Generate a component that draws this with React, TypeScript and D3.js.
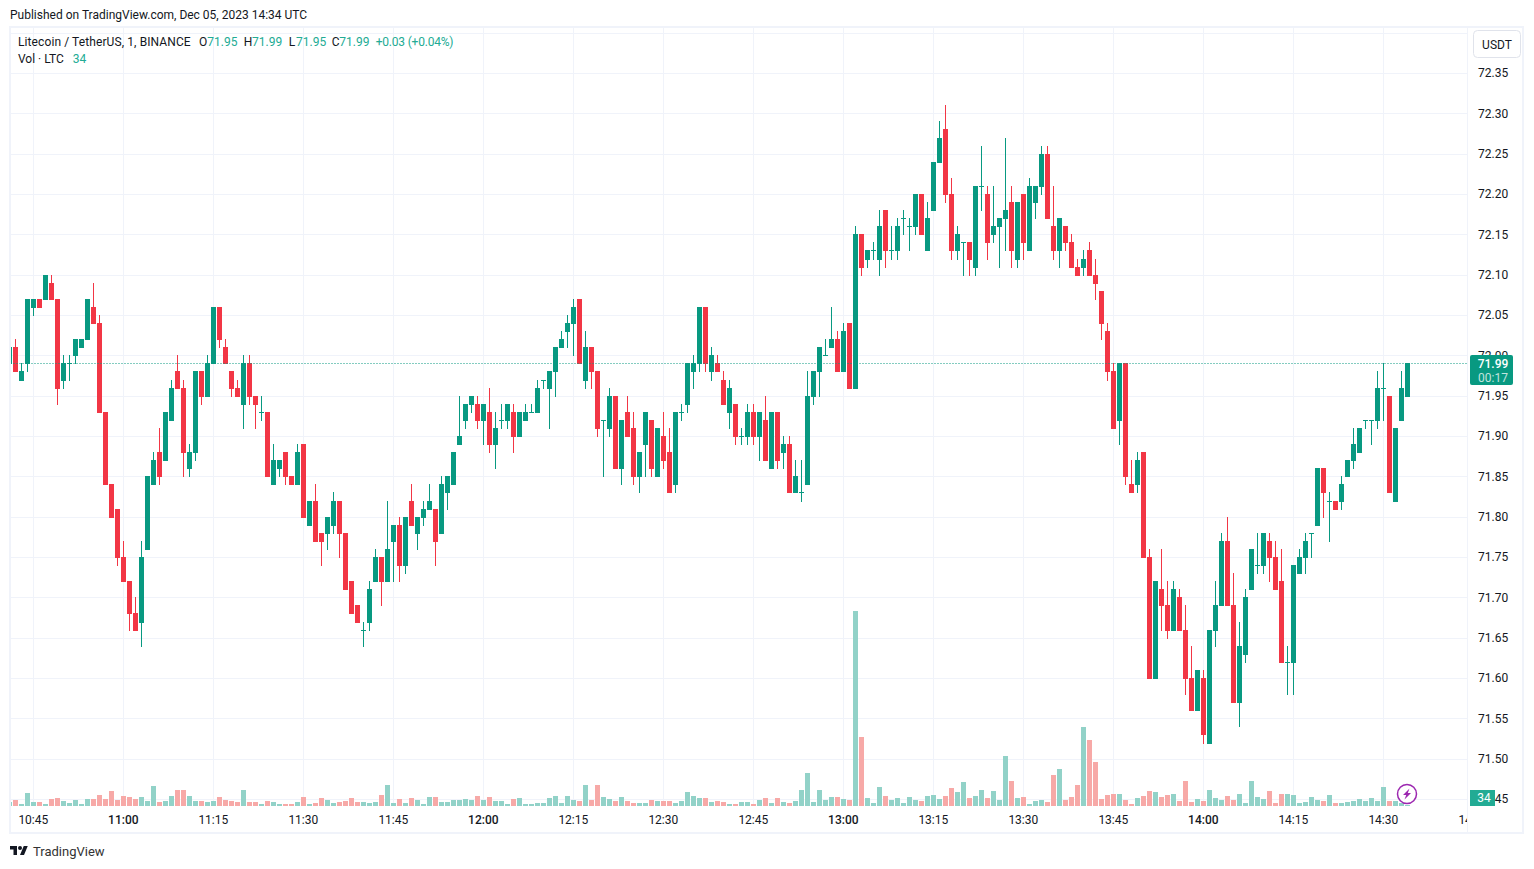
import React, { useRef, useEffect } from 'react';
import * as d3 from 'd3';

// one minute candles, the first one is 4 minutes before the 10:45 tick
const firstMinute = -4;

const opens = [
  71.99,72.01,71.97,71.99,72.06,72.07,72.07,72.09,72.07,71.97,
  71.99,72.00,72.01,72.02,72.06,72.04,71.93,71.84,71.81,71.75,
  71.72,71.68,71.67,71.76,71.84,71.88,71.87,71.92,71.98,71.96,
  71.86,71.88,71.98,71.95,71.99,72.06,72.01,71.98,71.96,71.94,
  71.99,71.95,71.93,71.93,71.84,71.86,71.88,71.85,71.84,71.89,
  71.79,71.82,71.78,71.78,71.79,71.82,71.78,71.72,71.69,71.66,
  71.67,71.72,71.75,71.72,71.77,71.79,71.74,71.82,71.78,71.80,
  71.81,71.81,71.78,71.83,71.84,71.89,71.92,71.94,71.94,71.92,
  71.93,71.89,71.92,71.92,71.93,71.90,71.92,71.93,71.93,71.97,
  71.96,71.98,72.01,72.03,72.04,72.07,71.97,72.01,71.98,71.92,
  71.91,71.95,71.86,71.93,71.91,71.85,71.89,71.92,71.85,71.90,
  71.88,71.84,71.93,71.94,71.98,71.99,72.06,71.98,71.99,71.97,
  71.93,71.94,71.90,71.90,71.93,71.90,71.92,71.86,71.93,71.88,
  71.89,71.83,71.83,71.84,71.95,71.98,72.00,72.01,72.02,71.98,
  72.04,71.96,72.15,72.12,72.13,72.12,72.18,72.13,72.13,72.17,
  72.16,72.16,72.20,72.13,72.18,72.24,72.28,72.20,72.13,72.14,
  72.14,72.11,72.21,72.20,72.15,72.16,72.17,72.19,72.12,72.20,
  72.13,72.19,72.21,72.25,72.16,72.13,72.16,72.14,72.11,72.11,
  72.13,72.10,72.08,72.03,71.98,71.92,71.99,71.84,71.84,71.88,
  71.75,71.60,71.71,71.69,71.66,71.70,71.66,71.60,71.56,71.60,
  71.52,71.66,71.69,71.77,71.69,71.57,71.63,71.71,71.74,71.74,
  71.77,71.75,71.72,71.62,71.62,71.73,71.75,71.78,71.79,71.86,
  71.82,71.82,71.82,71.85,71.87,71.88,71.92,71.92,71.92,71.96,
  71.95,71.82,71.92,71.95,
];

const highs = [
  72.01,72.02,71.99,72.07,72.07,72.07,72.10,72.10,72.07,72.00,
  72.00,72.02,72.02,72.07,72.09,72.05,71.93,71.84,71.81,71.77,
  71.72,71.70,71.77,71.85,71.88,71.91,71.93,71.97,72.00,71.97,
  71.89,71.98,71.98,72.00,72.06,72.06,72.02,71.98,71.97,72.00,
  72.00,71.95,71.95,71.93,71.89,71.87,71.88,71.85,71.89,71.89,
  71.82,71.84,71.78,71.80,71.83,71.82,71.78,71.72,71.69,71.67,
  71.72,71.76,71.75,71.82,71.79,71.80,71.80,71.84,71.80,71.82,
  71.84,71.81,71.85,71.85,71.88,71.95,71.94,71.95,71.95,71.94,
  71.96,71.93,71.94,71.94,71.94,71.93,71.94,71.94,71.97,71.97,
  71.98,72.01,72.03,72.05,72.07,72.07,72.03,72.01,71.98,71.92,
  71.96,71.95,71.92,71.95,71.93,71.88,71.93,71.92,71.91,71.93,
  71.91,71.93,71.94,71.99,72.00,72.06,72.06,72.01,72.00,71.98,
  71.97,71.94,71.91,71.94,71.94,71.93,71.95,71.93,71.93,71.90,
  71.90,71.87,71.87,71.98,71.98,72.01,72.02,72.06,72.03,72.04,
  72.04,72.16,72.15,72.13,72.14,72.18,72.18,72.16,72.17,72.18,
  72.17,72.20,72.20,72.19,72.24,72.29,72.31,72.22,72.16,72.14,
  72.14,72.21,72.26,72.21,72.21,72.17,72.27,72.21,72.19,72.20,
  72.22,72.21,72.26,72.26,72.21,72.17,72.16,72.15,72.12,72.13,
  72.14,72.12,72.08,72.04,71.99,71.99,71.99,71.87,71.88,71.88,
  71.76,71.72,71.76,71.72,71.72,71.71,71.69,71.64,71.61,71.61,
  71.66,71.72,71.78,71.80,71.73,71.67,71.71,71.76,71.78,71.78,
  71.78,71.77,71.76,71.64,71.74,71.76,71.78,71.78,71.86,71.86,
  71.83,71.82,71.85,71.87,71.91,71.91,71.92,71.92,71.98,71.99,
  71.95,71.91,71.98,71.99,
];

const lows = [
  71.99,71.98,71.97,71.98,72.05,72.06,72.07,72.07,71.94,71.96,
  71.97,71.99,72.01,72.02,72.04,71.93,71.84,71.80,71.74,71.72,
  71.66,71.66,71.64,71.76,71.84,71.84,71.87,71.92,71.96,71.85,
  71.85,71.87,71.94,71.95,71.99,72.01,71.99,71.95,71.95,71.91,
  71.94,71.91,71.92,71.85,71.84,71.85,71.84,71.84,71.84,71.80,
  71.79,71.77,71.74,71.76,71.78,71.75,71.71,71.68,71.67,71.64,
  71.66,71.72,71.69,71.72,71.72,71.72,71.73,71.79,71.76,71.79,
  71.81,71.74,71.78,71.81,71.84,71.89,71.91,71.93,71.91,71.89,
  71.88,71.86,71.91,71.91,71.88,71.90,71.92,71.93,71.93,71.96,
  71.91,71.95,72.01,72.01,72.00,71.99,71.96,71.96,71.90,71.85,
  71.90,71.86,71.84,71.90,71.84,71.83,71.85,71.85,71.85,71.86,
  71.83,71.83,71.92,71.93,71.96,71.98,71.98,71.97,71.98,71.94,
  71.91,71.89,71.89,71.89,71.89,71.87,71.87,71.86,71.86,71.86,
  71.83,71.83,71.82,71.84,71.94,71.95,72.00,72.01,71.98,71.98,
  71.96,71.96,72.10,72.11,72.12,72.10,72.11,72.12,72.12,72.15,
  72.13,72.15,72.15,72.13,72.18,72.24,72.19,72.12,72.12,72.10,
  72.10,72.10,72.18,72.12,72.14,72.11,72.13,72.11,72.11,72.12,
  72.13,72.17,72.20,72.17,72.12,72.11,72.13,72.11,72.10,72.10,
  72.10,72.07,72.02,71.97,71.91,71.89,71.84,71.83,71.83,71.75,
  71.60,71.60,71.66,71.65,71.66,71.66,71.58,71.56,71.56,71.52,
  71.52,71.64,71.69,71.69,71.57,71.54,71.62,71.71,71.73,71.73,
  71.72,71.71,71.62,71.58,71.58,71.73,71.73,71.75,71.79,71.80,
  71.77,71.81,71.81,71.85,71.86,71.88,71.91,71.89,71.91,71.92,
  71.83,71.82,71.92,71.95,
];

const closes = [
  72.01,71.98,71.98,72.07,72.07,72.06,72.10,72.07,71.96,71.99,
  71.99,72.02,72.02,72.07,72.04,71.93,71.84,71.80,71.75,71.72,
  71.68,71.66,71.75,71.85,71.87,71.85,71.93,71.96,71.96,71.88,
  71.88,71.98,71.95,71.99,72.06,72.02,71.99,71.96,71.95,71.99,
  71.95,71.94,71.93,71.85,71.87,71.87,71.85,71.84,71.88,71.80,
  71.82,71.77,71.77,71.80,71.82,71.78,71.71,71.68,71.67,71.66,
  71.71,71.75,71.72,71.76,71.79,71.74,71.80,71.79,71.80,71.81,
  71.82,71.77,71.84,71.85,71.88,71.90,71.94,71.95,71.92,71.94,
  71.89,71.91,71.92,71.94,71.90,71.93,71.93,71.93,71.96,71.97,
  71.98,72.01,72.02,72.04,72.06,71.99,72.01,71.98,71.91,71.92,
  71.95,71.86,71.92,71.90,71.85,71.88,71.93,71.86,71.91,71.87,
  71.83,71.93,71.93,71.99,71.99,72.06,71.99,72.00,71.98,71.94,
  71.96,71.90,71.90,71.93,71.90,71.93,71.87,71.93,71.87,71.89,
  71.83,71.85,71.83,71.95,71.98,72.01,72.00,72.02,71.98,72.03,
  71.96,72.15,72.11,72.13,72.13,72.16,72.13,72.13,72.16,72.17,
  72.16,72.20,72.15,72.17,72.24,72.27,72.20,72.13,72.15,72.14,
  72.12,72.21,72.21,72.14,72.16,72.17,72.18,72.13,72.19,72.14,
  72.21,72.21,72.25,72.17,72.13,72.17,72.14,72.11,72.10,72.12,
  72.10,72.09,72.04,71.98,71.91,71.99,71.85,71.83,71.87,71.75,
  71.60,71.72,71.69,71.66,71.71,71.66,71.60,71.56,71.61,71.53,
  71.66,71.69,71.77,71.69,71.57,71.64,71.70,71.76,71.74,71.78,
  71.75,71.71,71.62,71.62,71.74,71.75,71.77,71.78,71.86,71.83,
  71.82,71.81,71.84,71.87,71.89,71.91,71.92,71.92,71.96,71.96,
  71.83,71.91,71.96,71.99,
];

const volumes = [
  120,180,60,390,120,120,60,210,240,150,
  90,180,60,210,210,330,210,450,180,300,
  270,210,270,150,600,120,150,300,480,480,
  300,150,150,120,150,270,180,150,120,480,
  120,120,60,150,120,60,60,60,120,270,
  60,90,240,180,90,120,150,240,120,120,
  90,120,330,630,90,210,90,240,180,60,
  270,270,120,120,180,180,210,180,300,180,
  270,150,150,60,210,240,60,60,90,90,
  240,300,90,300,180,150,630,180,630,270,
  210,150,270,150,90,90,90,180,150,150,
  150,90,150,420,300,240,240,120,150,120,
  60,60,120,120,60,180,240,90,240,120,
  90,150,480,990,120,480,180,270,270,210,
  180,5850,2070,240,90,570,300,180,240,90,
  270,180,150,300,330,210,300,540,420,720,
  240,300,480,240,450,180,1500,750,240,270,
  60,150,180,120,930,1110,180,270,630,2370,
  1980,1320,210,330,360,360,180,60,240,300,
  450,420,270,330,360,150,750,120,210,150,
  480,240,180,300,180,360,90,750,270,210,
  450,90,360,360,330,90,120,270,180,150,
  330,90,90,120,150,210,150,240,150,570,
  150,150,90,34,
];

const priceTicks = [72.35,72.30,72.25,72.20,72.15,72.10,72.05,72.00,71.95,71.90,71.85,71.80,71.75,71.70,71.65,71.60,71.55,71.50,71.45];
const timeLabels = ['10:45','11:00','11:15','11:30','11:45','12:00','12:15','12:30','12:45','13:00','13:15','13:30','13:45','14:00','14:15','14:30','14:45'];
const lastPrice = 71.99;

const GREEN = '#089981';
const RED = '#f23645';
const VOL_GREEN = '#92d2c8';
const VOL_RED = '#f7a9a7';
const GRID = '#f0f3fa';
const BORDER = '#f0f3fa';
const TEXT = '#131722';
const TEXT_GREEN = '#22ab94';
const FONT = 'Roboto, sans-serif';

const App: React.FC = () => {
  const svgRef = useRef<SVGSVGElement | null>(null);

  useEffect(() => {
    if (!svgRef.current) return;
    const svg = d3.select(svgRef.current);
    svg.selectAll('*').remove();

    const left = 10.5;
    const right = 1467;
    const bottom = 806;

    // minutes after 10:45
    const x = d3.scaleLinear().domain([0, 15]).range([33.33, 123.33]);
    const y = d3.scaleLinear().domain([71.45, 72.35]).range([799, 73]);
    const yVol = d3.scaleLinear().domain([0, 5850]).range([bottom, 611]);
    const snap = (v: number) => Math.floor(v) + 0.5;

    svg.append('defs').append('clipPath').attr('id', 'plot')
      .append('rect').attr('x', left).attr('y', 27).attr('width', right - left).attr('height', bottom - 27);
    svg.append('defs').append('clipPath').attr('id', 'timeaxis')
      .append('rect').attr('x', left).attr('y', bottom).attr('width', right - left).attr('height', 27);

    // grid
    const grid = svg.append('g').attr('shape-rendering', 'crispEdges');
    grid.selectAll('line.h')
      .data([72.40, ...priceTicks])
      .enter().append('line')
      .attr('x1', left).attr('x2', right)
      .attr('y1', d => Math.round(y(d)) + 0.5)
      .attr('y2', d => Math.round(y(d)) + 0.5)
      .attr('stroke', GRID);
    grid.selectAll('line.v')
      .data(timeLabels.slice(0, -1))
      .enter().append('line')
      .attr('x1', (_, i) => snap(x(i * 15)))
      .attr('x2', (_, i) => snap(x(i * 15)))
      .attr('y1', 27).attr('y2', bottom)
      .attr('stroke', GRID);

    const idx = d3.range(opens.length);
    const minute = (i: number) => firstMinute + i;
    const plot = svg.append('g').attr('clip-path', 'url(#plot)').attr('shape-rendering', 'crispEdges');

    // volume
    plot.selectAll('rect.vol')
      .data(idx)
      .enter().append('rect')
      .attr('x', i => snap(x(minute(i))) - 2.5)
      .attr('width', 5)
      .attr('y', i => Math.round(yVol(volumes[i])))
      .attr('height', i => bottom - Math.round(yVol(volumes[i])))
      .attr('fill', i => closes[i] >= opens[i] ? VOL_GREEN : VOL_RED);

    // candles
    plot.selectAll('rect.wick')
      .data(idx)
      .enter().append('rect')
      .attr('x', i => snap(x(minute(i))) - 0.5)
      .attr('width', 1)
      .attr('y', i => Math.round(y(highs[i])))
      .attr('height', i => Math.round(y(lows[i])) - Math.round(y(highs[i])) + 1)
      .attr('fill', i => closes[i] >= opens[i] ? GREEN : RED);
    plot.selectAll('rect.body')
      .data(idx)
      .enter().append('rect')
      .attr('x', i => snap(x(minute(i))) - 2.5)
      .attr('width', 5)
      .attr('y', i => Math.round(y(Math.max(opens[i], closes[i]))))
      .attr('height', i => Math.round(y(Math.min(opens[i], closes[i]))) - Math.round(y(Math.max(opens[i], closes[i]))) + 1)
      .attr('fill', i => closes[i] >= opens[i] ? GREEN : RED);

    // last price line
    svg.append('line')
      .attr('x1', left).attr('x2', right)
      .attr('y1', Math.round(y(lastPrice)) + 0.5).attr('y2', Math.round(y(lastPrice)) + 0.5)
      .attr('stroke', GREEN)
      .attr('stroke-dasharray', '1 2');

    // frame
    svg.append('rect')
      .attr('x', 10).attr('y', 27).attr('width', 1513).attr('height', 806)
      .attr('fill', 'none').attr('stroke', BORDER).attr('stroke-width', 2);
    svg.append('line')
      .attr('x1', right + 0.5).attr('x2', right + 0.5).attr('y1', 27).attr('y2', 833)
      .attr('stroke', BORDER);

    const label = (parent: any, str: string, px: number, py: number, fill = TEXT, size = 12, anchor = 'start', weight = 400) =>
      parent.append('text')
        .attr('x', px).attr('y', py)
        .attr('dy', '0.35em')
        .attr('fill', fill)
        .attr('font-family', FONT)
        .attr('font-size', size)
        .attr('font-weight', weight)
        .attr('text-anchor', anchor)
        .text(str);

    // price axis
    priceTicks.forEach(t => label(svg, t.toFixed(2), 1478, y(t), TEXT));

    // time axis
    const timeAxis = svg.append('g').attr('clip-path', 'url(#timeaxis)');
    timeLabels.forEach((t, i) => {
      const hour = t.endsWith(':00');
      label(timeAxis, t, x(i * 15), 819.5, TEXT, 12, 'middle', hour ? 500 : 400);
    });

    // USDT button
    svg.append('rect')
      .attr('x', 1473.5).attr('y', 30.5).attr('width', 47).attr('height', 27).attr('rx', 4)
      .attr('fill', '#fff').attr('stroke', '#e0e3eb');
    label(svg, 'USDT', 1497, 44.5, TEXT, 12, 'middle');

    // last price badge
    svg.append('rect')
      .attr('x', 1470).attr('y', 355).attr('width', 43).attr('height', 30).attr('rx', 2)
      .attr('fill', GREEN);
    label(svg, lastPrice.toFixed(2), 1493, 363.5, '#fff', 12, 'middle', 500);
    label(svg, '00:17', 1493, 378, '#fff', 12, 'middle').attr('fill-opacity', 0.75);

    // volume badge
    svg.append('rect')
      .attr('x', 1470).attr('y', 790).attr('width', 25).attr('height', 16)
      .attr('fill', TEXT_GREEN);
    label(svg, String(volumes[volumes.length - 1]), 1484, 798, '#fff', 12, 'middle');

    // bolt icon
    const bolt = svg.append('g').attr('transform', 'translate(1407,794)');
    bolt.append('circle').attr('r', 9.5).attr('fill', '#fff').attr('stroke', '#9c27b0').attr('stroke-width', 1.5);
    bolt.append('path').attr('d', 'M2.5,-5.5 L-4,1 L-0.8,1 L-2.5,5.5 L4,-1 L0.8,-1 Z').attr('fill', '#9c27b0');

    // header
    label(svg, 'Published on TradingView.com, Dec 05, 2023 14:34 UTC', 10, 15);
    label(svg, 'Litecoin / TetherUS, 1, BINANCE', 18, 41.5).attr('letter-spacing', 0.1);
    const ohlc: [string, number, string, number][] = [
      ['O', 199, '71.95', 207.3],
      ['H', 243.7, '71.99', 252],
      ['L', 288.7, '71.95', 296],
      ['C', 331.7, '71.99', 339.3],
    ];
    ohlc.forEach(([k, kx, v, vx]) => {
      label(svg, k, kx, 41.5);
      label(svg, v, vx, 41.5, TEXT_GREEN);
    });
    label(svg, '+0.03 (+0.04%)', 375.7, 41.5, TEXT_GREEN).attr('letter-spacing', -0.2);
    label(svg, 'Vol · LTC', 18, 58.5);
    label(svg, '34', 72.7, 58.5, TEXT_GREEN);

    // footer logo
    svg.append('path')
      .attr('transform', 'translate(10,844) scale(0.5)')
      .attr('d', 'M14 22H7V11H0V4h14v18zM28 22h-8l7.5-18h8L28 22z')
      .attr('fill', TEXT);
    svg.append('circle').attr('cx', 20).attr('cy', 848).attr('r', 2).attr('fill', TEXT);
    label(svg, 'TradingView', 33, 851.5, '#333', 13);
  }, []);

  return (
    <svg
      ref={svgRef}
      width={1534}
      height={869}
      style={{ position: 'absolute', left: 0, top: 0, background: '#fff' }}
    />
  );
};

export default App;
